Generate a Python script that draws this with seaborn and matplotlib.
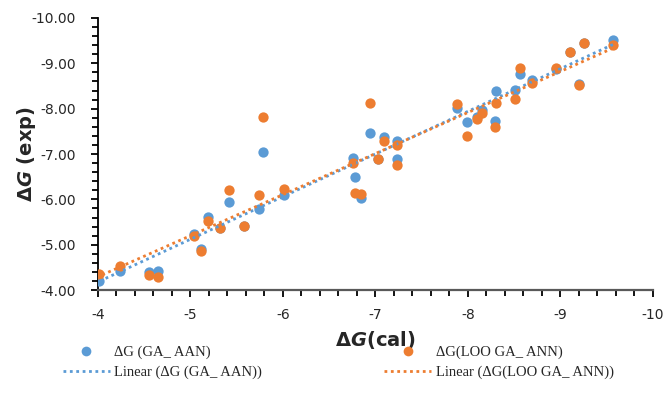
import numpy as np
import pandas as pd
import seaborn as sns
import matplotlib.pyplot as plt
from matplotlib.ticker import MultipleLocator, FormatStrFormatter
from matplotlib.lines import Line2D

# Values
dg_cal = [-4.01, -4.24, -4.55, -4.65, -5.04, -5.12, -5.19, -5.32, -5.42, -5.58,
          -5.74, -5.79, -6.01, -6.76, -6.78, -6.85, -6.94, -7.03, -7.09, -7.23,
          -7.23, -7.88, -7.99, -8.10, -8.15, -8.30, -8.31, -8.51, -8.57, -8.69,
          -8.95, -9.11, -9.20, -9.26, -9.57]
dg_ga_aan = [-4.20, -4.42, -4.40, -4.42, -5.24, -4.90, -5.61, -5.37, -5.94, -5.41,
             -5.79, -7.04, -6.10, -6.91, -6.50, -6.03, -7.46, -6.89, -7.38, -7.29,
             -6.89, -8.02, -7.71, -7.82, -7.97, -7.73, -8.39, -8.41, -8.76, -8.63,
             -8.87, -9.25, -8.54, -9.45, -9.51]
dg_loo = [-4.35, -4.53, -4.33, -4.29, -5.19, -4.86, -5.52, -5.37, -6.21, -5.41,
          -6.10, -7.82, -6.23, -6.80, -6.14, -6.12, -8.12, -6.89, -7.29, -7.20,
          -6.76, -8.10, -7.40, -7.77, -7.90, -7.60, -8.13, -8.21, -8.90, -8.57,
          -8.90, -9.25, -8.52, -9.45, -9.40]

labels = ['ΔG (GA_ AAN)', 'ΔG(LOO GA_ ANN)']
blue = '#5B9BD5'
orange = '#ED7D31'

df = pd.DataFrame({'cal': dg_cal, 'aan': dg_ga_aan, 'loo': dg_loo})

sns.set_style('white')
plt.rcParams['font.family'] = ['DejaVu Sans']
plt.rcParams['mathtext.fontset'] = 'custom'
plt.rcParams['mathtext.it'] = 'DejaVu Sans:italic:bold'

fig = plt.figure(figsize=(6.66, 4.08), dpi=100)
ax = fig.add_axes([0.147, 0.289, 0.833, 0.667])

# Scatter series
sns.scatterplot(data=df, x='cal', y='aan', color=blue, s=55, linewidth=0, ax=ax, zorder=3)
sns.scatterplot(data=df, x='cal', y='loo', color=orange, s=55, linewidth=0, ax=ax, zorder=3)

# Linear trendlines
sns.regplot(data=df, x='cal', y='aan', scatter=False, ci=None, truncate=True, ax=ax,
            line_kws=dict(color=blue, ls=(0, (1, 1.3)), lw=2, zorder=4))
sns.regplot(data=df, x='cal', y='loo', scatter=False, ci=None, truncate=True, ax=ax,
            line_kws=dict(color=orange, ls=(0, (1, 1.3)), lw=2, zorder=4))

ax.set_xlim(-4, -10)
ax.set_ylim(-4, -10)
ax.xaxis.set_major_locator(MultipleLocator(1))
ax.xaxis.set_minor_locator(MultipleLocator(0.2))
ax.yaxis.set_major_locator(MultipleLocator(1))
ax.yaxis.set_minor_locator(MultipleLocator(0.2))
ax.yaxis.set_major_formatter(FormatStrFormatter('%.2f'))
ax.xaxis.set_major_formatter(FormatStrFormatter('%d'))

ax.tick_params(axis='both', which='both', direction='out', color='black', width=1.3,
               labelsize=10, bottom=True, left=True)
ax.tick_params(axis='both', which='major', length=5)
ax.tick_params(axis='y', which='major', pad=11)
ax.tick_params(axis='x', which='major', pad=8)
ax.tick_params(axis='both', which='minor', length=4)

for side in ['top', 'right']:
    ax.spines[side].set_visible(False)
ax.spines['left'].set_color('black')
ax.spines['left'].set_linewidth(1.3)
ax.spines['bottom'].set_color('#595959')
ax.spines['bottom'].set_linewidth(1.6)

ax.set_xlabel('Δ$\\it{G}$(cal)', fontsize=14, fontweight='bold', labelpad=5)
ax.set_ylabel('Δ$\\it{G}$ (exp)', fontsize=14, fontweight='bold', labelpad=-5)

handles = [
    Line2D([], [], ls='none', marker='o', ms=7, color=blue, mec='none'),
    Line2D([], [], ls=(0, (1, 1.3)), lw=2, color=blue),
    Line2D([], [], ls='none', marker='o', ms=7, color=orange, mec='none'),
    Line2D([], [], ls=(0, (1, 1.3)), lw=2, color=orange),
]
leg_labels = [labels[0], 'Linear (' + labels[0] + ')', labels[1], 'Linear (' + labels[1] + ')']
fig.legend(handles, leg_labels, ncol=2, loc='upper left', bbox_to_anchor=(0.075, 0.185),
           frameon=False, prop={'family': 'Liberation Serif', 'size': 10.5},
           handlelength=3.2, columnspacing=8.4, labelspacing=0.45, handletextpad=0.3)

fig.savefig('out.png', dpi=100)
